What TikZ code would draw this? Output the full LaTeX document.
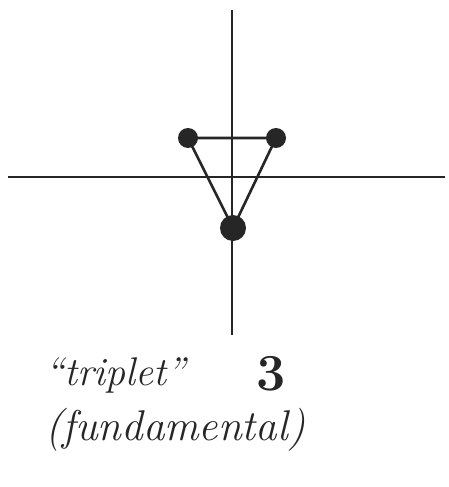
\documentclass[tikz,border=0pt]{standalone}
\begin{document}
\begin{tikzpicture}[x=1pt,y=-1pt,
  axis/.style={line width=2.2pt,black!85},
  edge/.style={line width=2.6pt,black!85},
  dot/.style={circle,fill=black!85,inner sep=0pt,minimum size=#1},
  hand/.style={font=\fontsize{#1}{#1}\selectfont\itshape,anchor=base west,inner sep=0pt,text=black!85}]
\useasboundingbox[fill=white] (0,0) rectangle (449,487);
\coordinate (vt) at (232,10);
\coordinate (vb) at (232,335);
\coordinate (hl) at (8,177);
\coordinate (hr) at (445,177);
\draw[axis] (vt) -- (vb);
\draw[axis] (hl) -- (hr);
\node[dot=20pt] (a) at (188,138) {};
\node[dot=20pt] (b) at (276,138) {};
\node[dot=26pt] (c) at (233,228) {};
\draw[edge] (a.center) -- (b.center) -- (c.center) -- cycle;
\node[hand=40] (t1) at (45,385) {``triplet''};
\node[hand=52] (t3) at (256,390) {\textbf{\upshape 3}};
\node[hand=43] (t2) at (45,440) {(fundamental)};
\end{tikzpicture}
\end{document}
